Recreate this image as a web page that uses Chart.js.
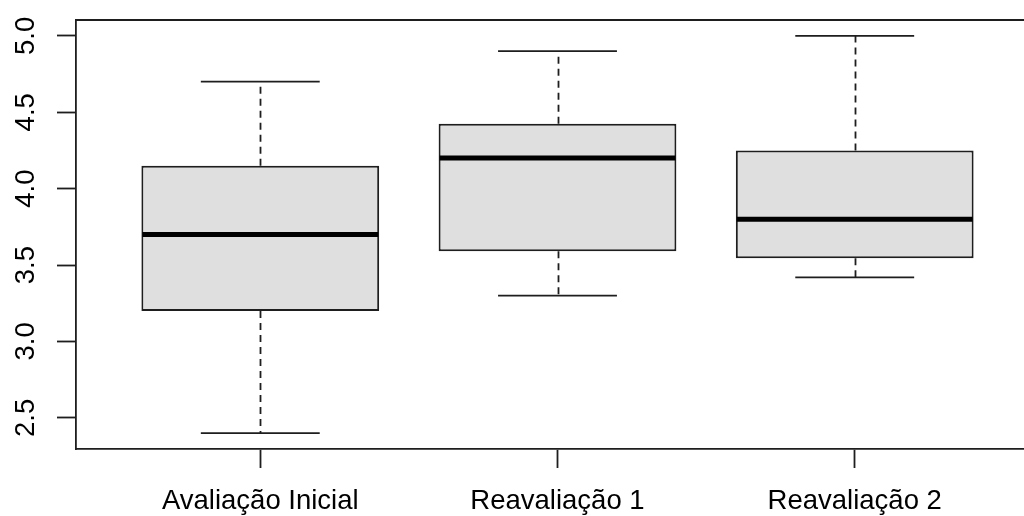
<!DOCTYPE html>
<html>
<head>
<meta charset="utf-8">
<script src="https://cdn.jsdelivr.net/npm/chart.js@4/dist/chart.umd.min.js"></script>
<style>
  html, body { margin: 0; padding: 0; background: #fff; overflow: hidden; width: 1024px; height: 516px; }
  #wrap { width: 1040px; height: 516px; }
</style>
</head>
<body>
<div id="wrap"><canvas id="chart" width="1040" height="516"></canvas></div>
<script>
// Five-number summaries for each assessment
const categories = ['Avaliação Inicial', 'Reavaliação 1', 'Reavaliação 2'];
const lowerWhisker = [2.4, 3.3, 3.42];
const firstQuartile = [3.2, 3.59, 3.545];
const medians = [3.7, 4.2, 3.8];
const thirdQuartile = [4.15, 4.425, 4.25];
const upperWhisker = [4.7, 4.9, 5.0];
const yTickValues = [2.5, 3.0, 3.5, 4.0, 4.5, 5.0];

const INK = '#1e1e1e';
const FONT = { family: '"Liberation Sans", Arial, sans-serif', size: 27.5 };

// y range padded 4% on each side, x range spans the groups plus half a slot, padded 4%
const yLo = Math.min(...lowerWhisker), yHi = Math.max(...upperWhisker);
const yPad = (yHi - yLo) * 0.04;
const xLo = 0.5, xHi = categories.length + 0.5;
const xPad = (xHi - xLo) * 0.04;

// Whiskers, staples and median bars drawn around the floating bars
const boxDecor = {
  id: 'boxDecor',
  beforeDatasetsDraw(chart) {
    const { ctx, scales: { y } } = chart;
    const meta = chart.getDatasetMeta(0);
    ctx.save();
    ctx.strokeStyle = INK;
    ctx.lineWidth = 1.8;
    meta.data.forEach((bar, i) => {
      const { x, width } = bar.getProps(['x', 'width'], true);
      const yLow = y.getPixelForValue(lowerWhisker[i]);
      const yQ1 = y.getPixelForValue(firstQuartile[i]);
      const yQ3 = y.getPixelForValue(thirdQuartile[i]);
      const yHigh = y.getPixelForValue(upperWhisker[i]);
      const cx = Math.round(x) + 0.5;
      ctx.setLineDash([7, 5]);
      ctx.beginPath();
      ctx.moveTo(cx, yQ3); ctx.lineTo(cx, yHigh);
      ctx.moveTo(cx, yQ1); ctx.lineTo(cx, yLow);
      ctx.stroke();
      ctx.setLineDash([]);
      const half = width / 4;
      ctx.beginPath();
      ctx.moveTo(x - half, yHigh); ctx.lineTo(x + half, yHigh);
      ctx.moveTo(x - half, yLow); ctx.lineTo(x + half, yLow);
      ctx.stroke();
    });
    ctx.restore();
  },
  afterDatasetsDraw(chart) {
    const { ctx, chartArea, scales: { y } } = chart;
    const meta = chart.getDatasetMeta(0);
    ctx.save();
    ctx.strokeStyle = '#000';
    ctx.lineWidth = 5;
    ctx.lineCap = 'butt';
    meta.data.forEach((bar, i) => {
      const { x, width } = bar.getProps(['x', 'width'], true);
      const ym = y.getPixelForValue(medians[i]);
      ctx.beginPath();
      ctx.moveTo(x - width / 2 + 1, ym);
      ctx.lineTo(x + width / 2 - 1, ym);
      ctx.stroke();
    });
    // plot frame (top and right sides)
    ctx.strokeStyle = INK;
    ctx.lineWidth = 1.8;
    ctx.beginPath();
    ctx.moveTo(chartArea.left, chartArea.top);
    ctx.lineTo(chartArea.right, chartArea.top);
    ctx.lineTo(chartArea.right, chartArea.bottom);
    ctx.stroke();
    ctx.restore();
  }
};

new Chart(document.getElementById('chart'), {
  type: 'bar',
  data: {
    datasets: [{
      data: categories.map((c, i) => ({ x: i + 1, y: [firstQuartile[i], thirdQuartile[i]] })),
      backgroundColor: '#dfdfdf',
      borderColor: INK,
      borderWidth: 2,
      borderSkipped: false,
      barPercentage: 0.8,
      categoryPercentage: 1.0
    }]
  },
  options: {
    responsive: false,
    devicePixelRatio: 1,
    animation: false,
    events: [],
    layout: { padding: { top: 20, right: 1, left: 0, bottom: 0 } },
    plugins: { legend: { display: false }, tooltip: { enabled: false } },
    scales: {
      x: {
        type: 'linear',
        offset: false,
        min: xLo - xPad,
        max: xHi + xPad,
        afterBuildTicks(scale) { scale.ticks = categories.map((c, i) => ({ value: i + 1 })); },
        afterFit(scale) { scale.height = 67; scale.paddingLeft = 0; scale.paddingRight = 0; },
        grid: { display: true, offset: false, drawOnChartArea: false, drawTicks: true, tickLength: 19, tickColor: INK, tickWidth: 1.8 },
        border: { display: true, color: INK, width: 1.8 },
        ticks: {
          font: FONT,
          color: '#000',
          padding: 17,
          maxRotation: 0,
          minRotation: 0,
          autoSkip: false,
          callback: (v) => categories[Math.round(v) - 1]
        }
      },
      y: {
        type: 'linear',
        min: yLo - yPad,
        max: yHi + yPad,
        afterBuildTicks(scale) { scale.ticks = yTickValues.map(v => ({ value: v })); },
        afterFit(scale) { scale.width = 76; scale.paddingTop = 0; scale.paddingBottom = 0; },
        grid: { display: true, drawOnChartArea: false, drawTicks: true, tickLength: 19, tickColor: INK, tickWidth: 1.8 },
        border: { display: true, color: INK, width: 1.8 },
        ticks: {
          font: FONT,
          color: '#000',
          padding: 11,
          minRotation: 90,
          maxRotation: 90,
          crossAlign: 'center',
          autoSkip: false,
          callback: (v) => Number(v).toFixed(1)
        }
      }
    }
  },
  plugins: [boxDecor]
});
</script>
</body>
</html>
